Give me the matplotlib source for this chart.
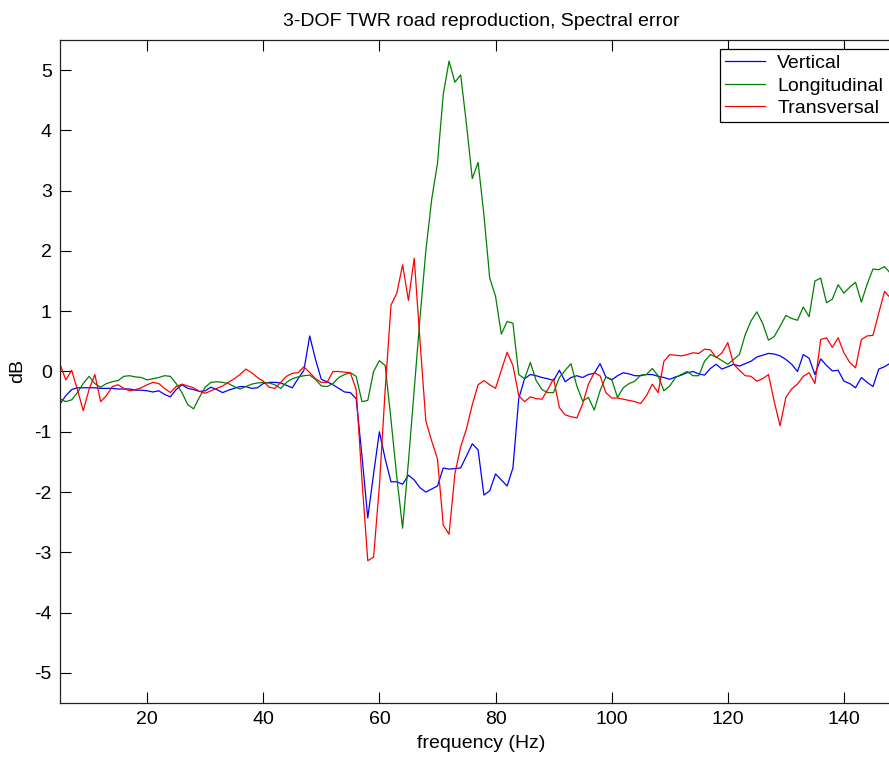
import numpy as np
import matplotlib
matplotlib.use("Agg")
import matplotlib.pyplot as plt
from matplotlib.patches import Rectangle

plt.rcParams['font.family'] = ['Liberation Sans', 'DejaVu Sans']
plt.rcParams['axes.unicode_minus'] = False

freq = np.arange(5, 149)

vertical = [
    -0.54, -0.40, -0.30, -0.27, -0.27, -0.27, -0.27, -0.28, -0.28, -0.28,
    -0.29, -0.29, -0.29, -0.31, -0.31, -0.32, -0.34, -0.32, -0.38, -0.42,
    -0.30, -0.22, -0.28, -0.30, -0.33, -0.32, -0.26, -0.30, -0.35, -0.31,
    -0.28, -0.25, -0.25, -0.28, -0.27, -0.20, -0.18, -0.18, -0.19, -0.23,
    -0.27, -0.12, 0.02, 0.59, 0.20, -0.13, -0.17, -0.22, -0.28, -0.34,
    -0.35, -0.45, -1.40, -2.43, -1.70, -1.00, -1.45, -1.83, -1.83, -1.87,
    -1.72, -1.80, -1.93, -2.00, -1.95, -1.90, -1.60, -1.62, -1.61, -1.60,
    -1.40, -1.20, -1.30, -2.05, -1.98, -1.70, -1.80, -1.90, -1.60, -0.45,
    -0.12, -0.05, -0.07, -0.10, -0.12, -0.15, 0.02, -0.17, -0.10, -0.07,
    -0.10, -0.05, -0.03, 0.13, -0.09, -0.14, -0.07, -0.02, -0.04, -0.07,
    -0.07, -0.05, -0.05, -0.08, -0.10, -0.13, -0.09, -0.06, -0.02, 0.00,
    -0.04, -0.06, 0.05, 0.12, 0.04, 0.08, 0.12, 0.09, 0.13, 0.17,
    0.24, 0.27, 0.30, 0.29, 0.26, 0.20, 0.12, 0.00, 0.28, 0.22,
    -0.05, 0.21, 0.10, 0.01, 0.02, -0.16, -0.20, -0.27, -0.10, -0.18,
    -0.25, 0.04, 0.08, 0.14,
]

longitudinal = [
    -0.45, -0.50, -0.47, -0.35, -0.20, -0.08, -0.20, -0.26, -0.20, -0.17,
    -0.15, -0.08, -0.07, -0.09, -0.10, -0.14, -0.12, -0.10, -0.07, -0.08,
    -0.20, -0.35, -0.55, -0.62, -0.43, -0.26, -0.18, -0.17, -0.18, -0.20,
    -0.25, -0.29, -0.25, -0.21, -0.19, -0.18, -0.19, -0.22, -0.28, -0.18,
    -0.12, -0.09, -0.07, -0.06, -0.13, -0.24, -0.25, -0.20, -0.10, -0.05,
    -0.02, -0.08, -0.50, -0.48, 0.00, 0.18, 0.10, -0.80, -1.75, -2.60,
    -1.50, -0.30, 0.90, 2.00, 2.85, 3.45, 4.60, 5.15, 4.80, 4.92,
    4.10, 3.20, 3.47, 2.60, 1.55, 1.25, 0.62, 0.83, 0.80, -0.05,
    -0.12, 0.15, -0.15, -0.30, -0.35, -0.35, -0.10, 0.02, 0.13, -0.24,
    -0.49, -0.43, -0.64, -0.32, -0.09, -0.13, -0.43, -0.27, -0.20, -0.16,
    -0.06, -0.05, 0.05, -0.07, -0.32, -0.24, -0.10, -0.05, 0.00, -0.07,
    -0.07, 0.17, 0.28, 0.24, 0.18, 0.12, 0.20, 0.28, 0.61, 0.84,
    0.99, 0.80, 0.52, 0.58, 0.75, 0.93, 0.88, 0.85, 1.07, 0.91,
    1.50, 1.55, 1.14, 1.20, 1.44, 1.30, 1.40, 1.48, 1.15, 1.45,
    1.70, 1.69, 1.74, 1.63,
]

transversal = [
    0.12, -0.14, 0.02, -0.30, -0.65, -0.30, -0.05, -0.50, -0.40, -0.25,
    -0.22, -0.28, -0.32, -0.30, -0.27, -0.22, -0.18, -0.20, -0.28, -0.35,
    -0.25, -0.21, -0.24, -0.27, -0.33, -0.36, -0.32, -0.28, -0.24, -0.18,
    -0.12, -0.05, 0.04, -0.02, -0.10, -0.16, -0.26, -0.28, -0.18, -0.08,
    -0.03, -0.02, 0.08, -0.02, -0.12, -0.18, -0.18, 0.00, 0.00, -0.01,
    -0.02, -0.30, -1.80, -3.14, -3.08, -1.90, -0.30, 1.10, 1.30, 1.77,
    1.18, 1.88, 0.50, -0.82, -1.15, -1.45, -2.55, -2.70, -1.70, -1.25,
    -0.95, -0.55, -0.22, -0.15, -0.22, -0.28, 0.02, 0.32, 0.10, -0.40,
    -0.50, -0.42, -0.45, -0.46, -0.30, -0.12, -0.60, -0.72, -0.75, -0.77,
    -0.54, -0.21, -0.02, -0.07, -0.35, -0.44, -0.44, -0.46, -0.48, -0.50,
    -0.53, -0.40, -0.21, -0.35, 0.17, 0.28, 0.27, 0.26, 0.28, 0.31,
    0.30, 0.37, 0.36, 0.23, 0.31, 0.48, 0.12, 0.02, -0.07, -0.08,
    -0.16, -0.12, -0.05, -0.50, -0.90, -0.43, -0.29, -0.21, -0.08, -0.02,
    -0.20, 0.53, 0.56, 0.40, 0.56, 0.31, 0.15, 0.06, 0.53, 0.59,
    0.60, 0.97, 1.33, 1.22,
]

series_names = ["Vertical", "Longitudinal", "Transversal"]
series_colors = ["#0000ff", "#008000", "#ff0000"]
x_ticks = [20, 40, 60, 80, 100, 120, 140]
y_ticks = [-5, -4, -3, -2, -1, 0, 1, 2, 3, 4, 5]

W, H = 889, 757
fig = plt.figure(figsize=(W / 100, H / 100), dpi=100)
ax = fig.add_axes([60 / W, 1 - 703 / H, 842 / W, 663 / H])

fs = 14
for vals, name, col in zip([vertical, longitudinal, transversal], series_names, series_colors):
    ax.plot(freq, vals, color=col, lw=0.9, label=name)

ax.set_xlim(5, 150)
ax.set_ylim(-5.5, 5.5)
ax.set_xticks(x_ticks)
ax.set_yticks(y_ticks)
ax.tick_params(direction='in', length=8, width=0.8, top=True, right=True,
               labelsize=fs, pad=6, colors='black')
for s in ax.spines.values():
    s.set_linewidth(0.9)
    s.set_color('#222222')

ax.set_title("3-DOF TWR road reproduction, Spectral error", fontsize=fs, pad=10)
ax.set_xlabel("frequency (Hz)", fontsize=fs, labelpad=5)
ax.set_ylabel("dB", fontsize=fs, labelpad=6)

# white box with black border that runs past the right edge of the (cropped) image
box = Rectangle((720 / W, 1 - 122 / H), 240 / W, 73 / H, transform=fig.transFigure,
                facecolor='white', edgecolor='black', linewidth=0.9, zorder=4)
ax.add_patch(box)
box.set_clip_on(False)

leg = ax.legend(loc='upper left', bbox_to_anchor=((720 - 60) / 842, 1 - 9 / 663),
                borderaxespad=0, fontsize=fs, frameon=False, handlelength=2.05,
                handletextpad=0.62, labelspacing=0.26, borderpad=0.27)
leg.set_zorder(5)

fig.savefig("out.png", dpi=100)
